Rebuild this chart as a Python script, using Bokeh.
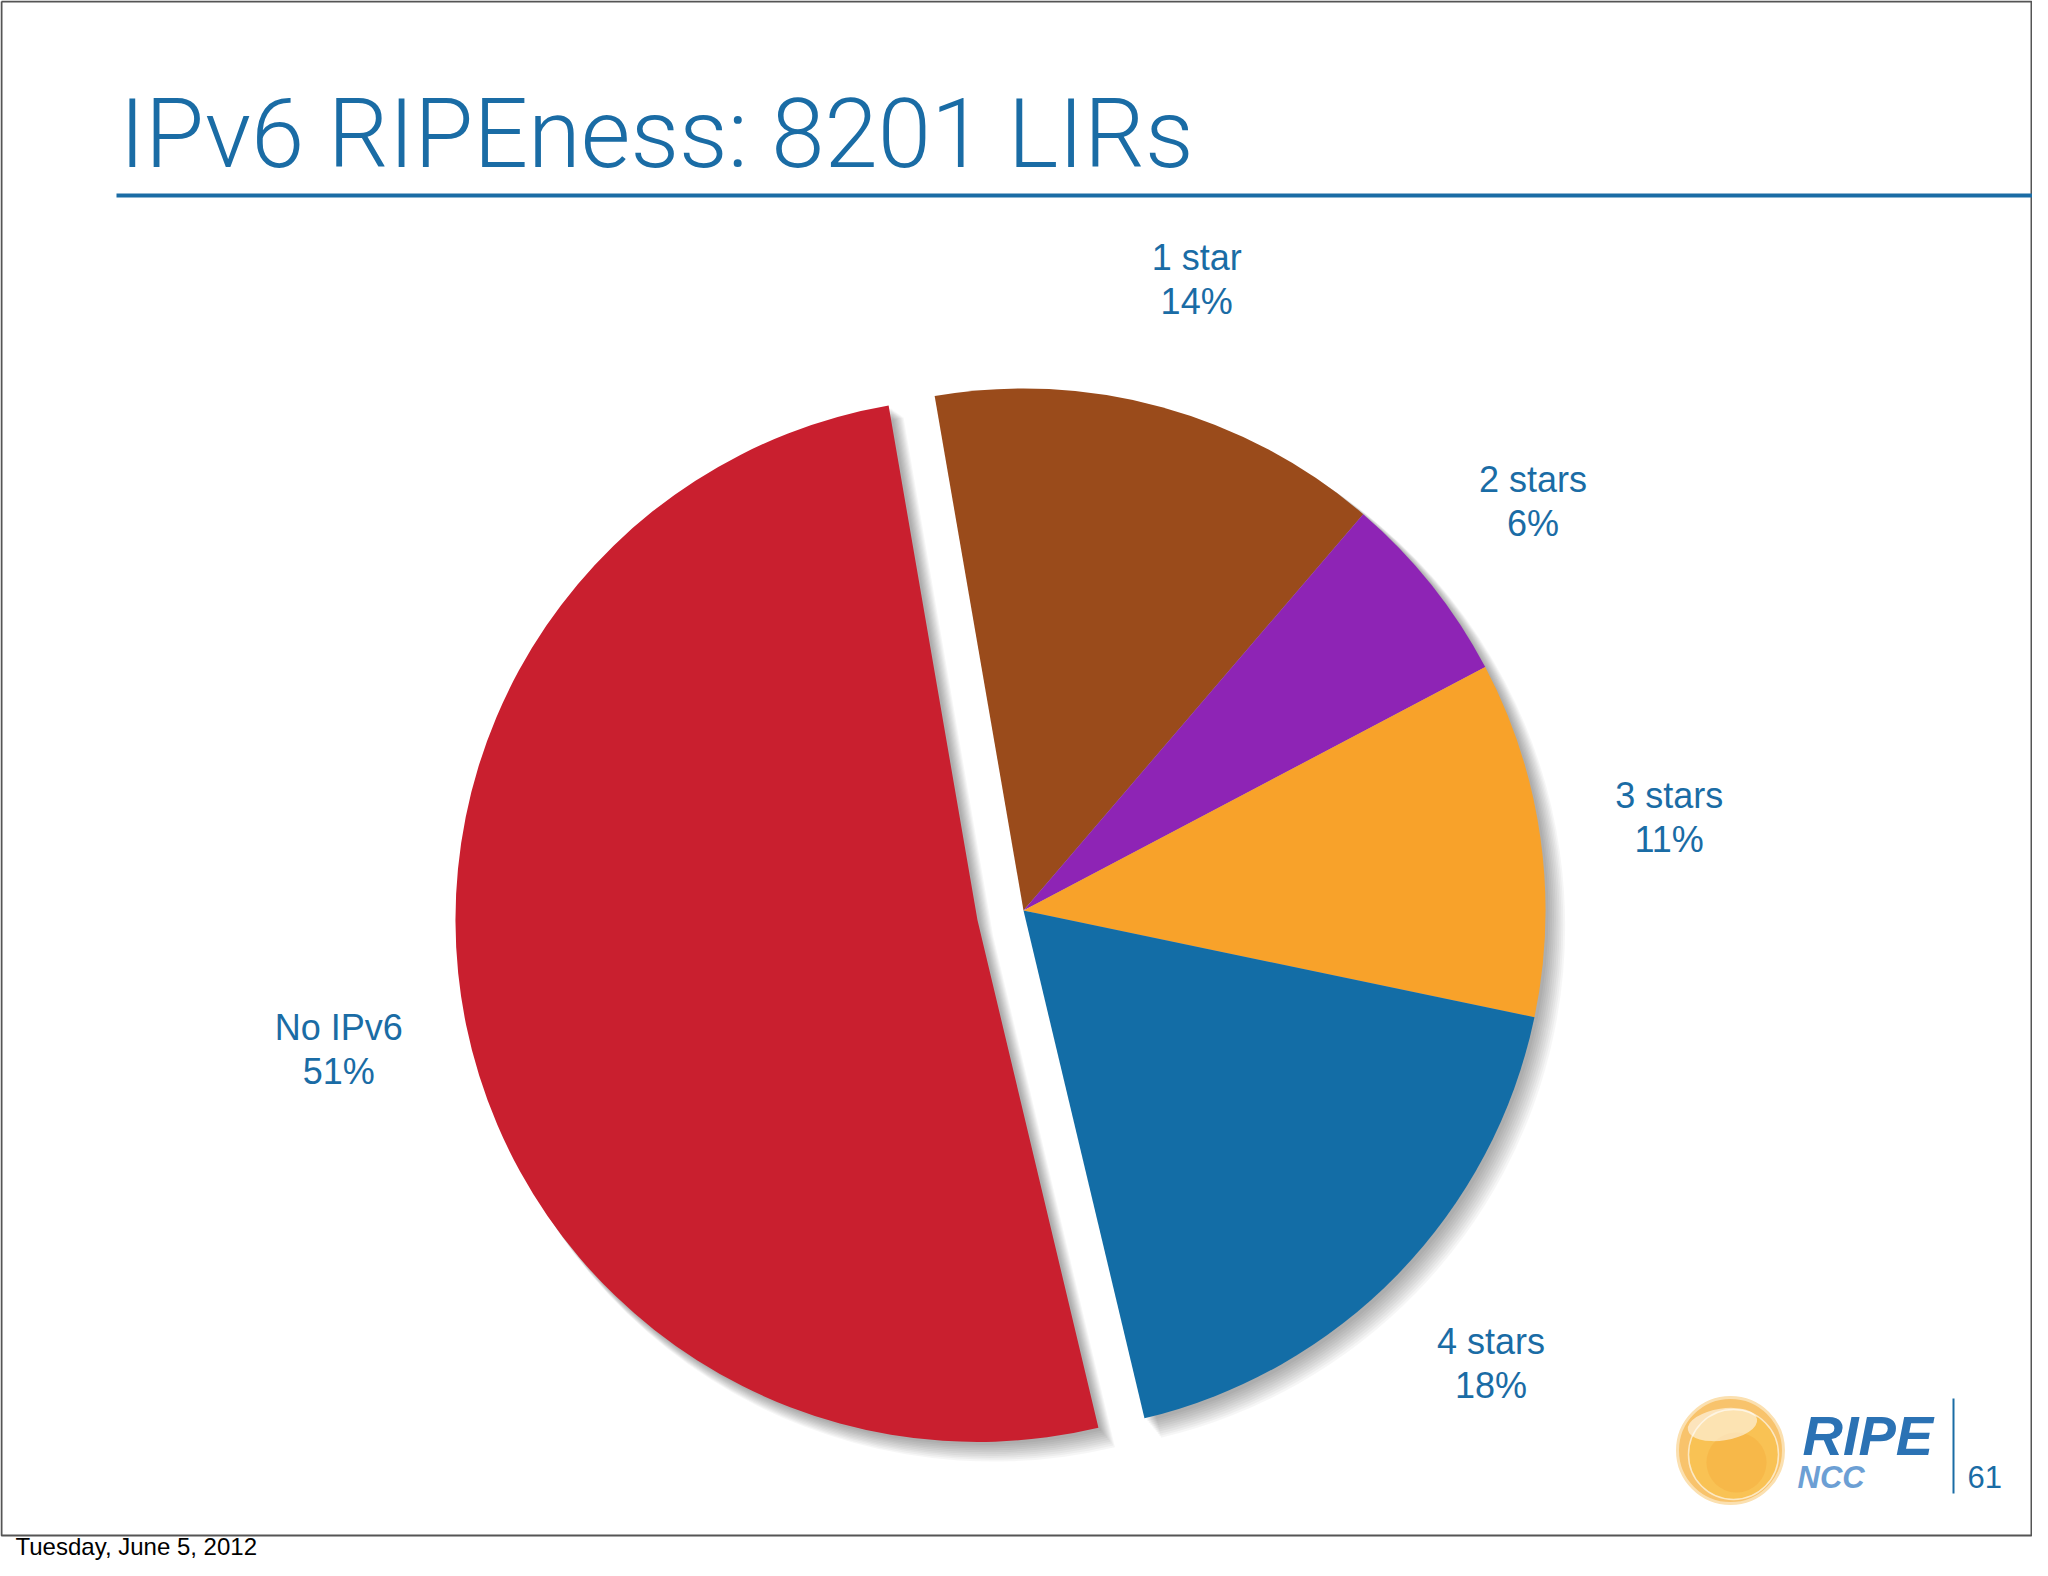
import numpy as np
from bokeh.plotting import figure
from bokeh.models import Range1d
from bokeh.core.properties import value
from bokeh.embed import file_html
from bokeh.resources import INLINE

# ---------------- data ----------------
categories = ["1 star", "2 stars", "3 stars", "4 stars", "No IPv6"]
percents = [14, 6, 11, 18, 51]
slice_colors = ["#9A4B1B", "#8E24B5", "#F8A22A", "#136DA6", "#C91F2F"]
exploded = ["No IPv6"]
title_text = "IPv6 RIPEness: 8201 LIRs"
footer_text = "Tuesday, June 5, 2012"
page_number = "61"

# ---------------- layout ----------------
FIG_W, FIG_H = 2032, 1560
BLUE = "#1A6CA5"


def Y(s):
    # screen pixel row -> data y (y axis points up)
    return -s


p = figure(width=FIG_W, height=FIG_H,
           x_range=Range1d(0, FIG_W), y_range=Range1d(-FIG_H, 0),
           output_backend="svg", toolbar_location=None, min_border=0,
           x_axis_type=None, y_axis_type=None)
p.grid.visible = False
p.outline_line_color = None
p.background_fill_color = "white"
p.border_fill_color = "white"

# slide frame
p.line(x=[1, 1, 2031, 2031, 1], y=[Y(1), Y(1535), Y(1535), Y(1), Y(1)],
       line_color="#555555", line_width=2)

# title + rule
p.text(x=[119], y=[Y(133)], text=[title_text], text_font=value("Roboto Light"),
       text_font_size="96px", text_color=BLUE, text_baseline="middle", text_align="left")
p.segment(x0=[116], y0=[Y(195)], x1=[2032], y1=[Y(195)], line_color=BLUE, line_width=4)

# ---------------- pie ----------------
cx, cy = 1023, Y(910)
R = 522
start_cw = -9.8          # degrees clockwise from 12 o'clock
explode_d = 47
label_r = 652

vals = np.array(percents, dtype=float)
fr = vals / vals.sum()
cum = np.concatenate([[0], np.cumsum(fr)[:-1]])
a0 = start_cw + 360 * cum
a1 = a0 + 360 * fr
mid = (a0 + a1) / 2

xs, ys = [], []
for c, m in zip(categories, mid):
    d = explode_d if c in exploded else 0
    xs.append(cx + d * np.sin(np.radians(m)))
    ys.append(cy + d * np.cos(np.radians(m)))
xs = np.array(xs)
ys = np.array(ys)
sa = np.radians(90 - a1)
ea = np.radians(90 - a0)

# soft drop shadow (several translucent layers)
for k in range(10):
    off = 3 + k * 1.4
    p.wedge(x=xs + off, y=ys - off, radius=R + 0.45 * k, start_angle=sa, end_angle=ea,
            direction="anticlock", fill_color="black", fill_alpha=0.037, line_color=None)

p.wedge(x=xs, y=ys, radius=R, start_angle=sa, end_angle=ea, direction="anticlock",
        fill_color=slice_colors, line_color=None)

# labels
lx = xs + label_r * np.sin(np.radians(mid))
ly = ys + label_r * np.cos(np.radians(mid)) + 2
pct_text = [f"{v}%" for v in percents]
p.text(x=lx, y=ly + 22, text=categories, text_font=value("Liberation Sans"), text_font_size="36px",
       text_color=BLUE, text_align="center", text_baseline="middle")
p.text(x=lx, y=ly - 22, text=pct_text, text_font=value("Liberation Sans"), text_font_size="36px",
       text_color=BLUE, text_align="center", text_baseline="middle")

# ---------------- logo ----------------
p.circle(x=[1730], y=[Y(1450)], radius=53, fill_color="#F7BD5C", line_color="#FBE0B0",
         line_width=3, fill_alpha=0.9)
p.circle(x=[1733], y=[Y(1454)], radius=45, fill_color="#F8C252", line_color="#FCE8C2",
         line_width=1.5, fill_alpha=0.9)
p.circle(x=[1736], y=[Y(1462)], radius=30, fill_color="#F5AE3E", line_color=None, fill_alpha=0.5)
p.ellipse(x=[1722], y=[Y(1424)], width=70, height=32, angle=0.15, fill_color="white",
          fill_alpha=0.55, line_color=None)
p.text(x=[1802], y=[Y(1435)], text=["RIPE"], text_font=value("Liberation Sans"),
       text_font_style="bold italic", text_font_size="56px", text_color="#2B72B4",
       text_baseline="middle")
p.text(x=[1797], y=[Y(1477)], text=["NCC"], text_font=value("Liberation Sans"),
       text_font_style="bold italic", text_font_size="31px", text_color="#6C9FD4",
       text_baseline="middle")
p.segment(x0=[1953], y0=[Y(1398)], x1=[1953], y1=[Y(1493)], line_color=BLUE, line_width=2)
p.text(x=[1967], y=[Y(1476)], text=[page_number], text_font=value("Liberation Sans"),
       text_font_size="31px", text_color=BLUE, text_baseline="middle")

# footer date
p.text(x=[15], y=[Y(1546)], text=[footer_text], text_font=value("Liberation Sans"),
       text_font_size="24px", text_color="black", text_baseline="middle")

open("out.html", "w").write(file_html(p, INLINE))
